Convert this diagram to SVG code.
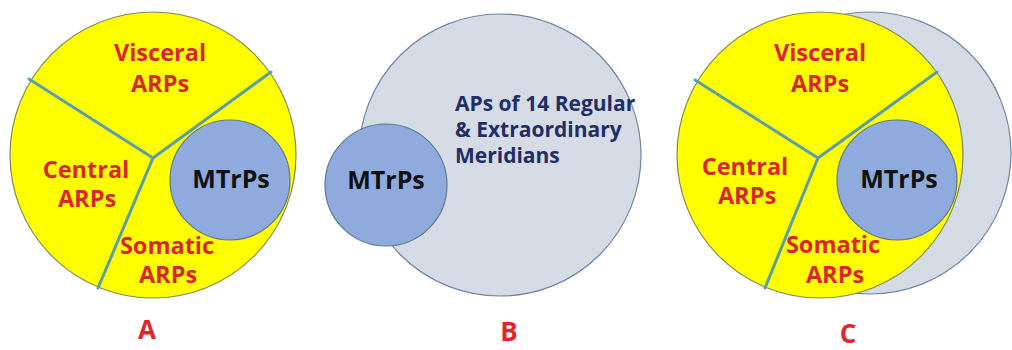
<svg xmlns="http://www.w3.org/2000/svg" width="1012" height="350" viewBox="0 0 1012 350">
<style>
.yel{fill:#ffff00;stroke:#7f8a5a;stroke-width:1.2}
.grey{fill:#d6dce5;stroke:#6f86a3;stroke-width:1.2}
.mtr{fill:#8faadc;stroke:#5d7a8c;stroke-width:1.2}
.div{stroke:#5b9ea8;stroke-width:3;fill:none;stroke-linecap:round;stroke-linejoin:round}
text{font-family:"Open Sans","Liberation Sans",sans-serif;font-weight:bold}
.red{fill:#d9262b;font-size:23.5px;text-anchor:middle}
.blk{fill:#111111;font-size:25px;text-anchor:middle}
.nav{fill:#1f2e66;font-size:21px}
.lbl{fill:#e0262b;font-size:26px;text-anchor:middle}
</style>
<rect width="1012" height="350" fill="#ffffff"/>
<g id="panelA">
  <circle class="yel" cx="153" cy="155" r="143"/>
  <g id="dividersA"><polyline class="div" points="29,79 153,158 271,72"/><line class="div" x1="153" y1="158" x2="98" y2="288"/></g>
  <g id="A-mtrps"><circle class="mtr" cx="230" cy="180" r="60"/><text class="blk" x="231" y="188">MTrPs</text></g>
  <g id="A-visceral"><text class="red" x="160" y="61">Visceral</text><text class="red" x="160" y="92">ARPs</text></g>
  <g id="A-central"><text class="red" x="86" y="178">Central</text><text class="red" x="87" y="207">ARPs</text></g>
  <g id="A-somatic"><text class="red" x="167" y="254">Somatic</text><text class="red" x="168" y="283">ARPs</text></g>
  <text class="lbl" x="147" y="339">A</text>
</g>
<g id="panelB">
  <circle class="grey" cx="500" cy="155" r="141"/>
  <g id="B-mtrps"><circle class="mtr" cx="386" cy="185" r="61"/><text class="blk" x="386" y="189">MTrPs</text></g>
  <g id="B-aps"><text class="nav" x="455" y="111">APs of 14 Regular</text><text class="nav" x="455" y="137">&amp; Extraordinary</text><text class="nav" x="455" y="163">Meridians</text></g>
  <text class="lbl" x="509" y="341">B</text>
</g>
<g id="panelC">
  <circle class="grey" cx="870" cy="153" r="141"/>
  <circle class="yel" cx="820" cy="155" r="143"/>
  <g id="dividersC"><polyline class="div" points="695,80 818,158 937,72"/><line class="div" x1="818" y1="158" x2="765" y2="288"/></g>
  <g id="C-mtrps"><circle class="mtr" cx="897" cy="180" r="60"/><text class="blk" x="899" y="188">MTrPs</text></g>
  <g id="C-visceral"><text class="red" x="820" y="61">Visceral</text><text class="red" x="820" y="92">ARPs</text></g>
  <g id="C-central"><text class="red" x="745" y="175">Central</text><text class="red" x="747" y="204">ARPs</text></g>
  <g id="C-somatic"><text class="red" x="833" y="253">Somatic</text><text class="red" x="835" y="283">ARPs</text></g>
  <text class="lbl" x="848" y="343">C</text>
</g>
</svg>
